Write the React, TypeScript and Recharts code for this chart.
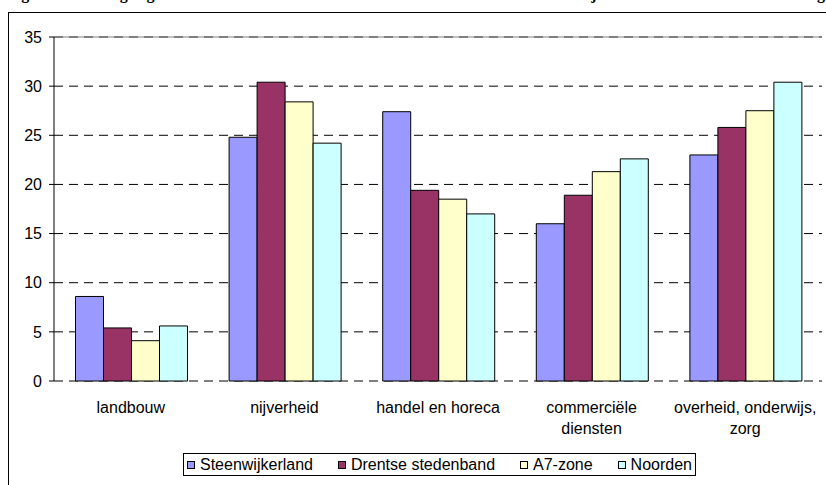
import React from 'react';
import { BarChart, Bar, XAxis, YAxis, CartesianGrid, ReferenceLine } from 'recharts';

const categories = [
  'landbouw',
  'nijverheid',
  'handel en horeca',
  'commerciële\ndiensten',
  'overheid, onderwijs,\nzorg',
];
const steenwijkerland = [8.6, 24.8, 27.4, 16.0, 23.0];
const drentseStedenband = [5.4, 30.4, 19.4, 18.9, 25.8];
const a7Zone = [4.1, 28.4, 18.5, 21.3, 27.5];
const noorden = [5.6, 24.2, 17.0, 22.6, 30.4];

const seriesNames = ['Steenwijkerland', 'Drentse stedenband', 'A7-zone', 'Noorden'];
const seriesColors = ['#9999FF', '#993366', '#FFFFCC', '#CCFFFF'];
const seriesValues = [steenwijkerland, drentseStedenband, a7Zone, noorden];

const yTicks = [0, 5, 10, 15, 20, 25, 30, 35];
const boundaryTicks = [0, 1, 2, 3, 4, 5];
const titleText =
  'Figuur 2.4 Werkgelegenheid naar sectoren in 2005: de Drentse stedenband en Steenwijkerland en het hele Noorden als gemiddelde';

const data = categories.map((name, i) => {
  const row: any = { name };
  seriesValues.forEach((vals, s) => {
    row['s' + s] = vals[i];
  });
  return row;
});

const FONT = "'Liberation Sans', Arial, sans-serif";

const CatTick = (props: any) => {
  const { x, y, payload } = props;
  const lines = String(payload.value).split('\n');
  return (
    <text x={x} y={y} textAnchor="middle" fill="#000" fontSize={16} fontFamily={FONT}>
      {lines.map((l, i) => (
        <tspan key={i} x={x} dy={i === 0 ? 32 : 21}>
          {l}
        </tspan>
      ))}
    </text>
  );
};

export default function App() {
  return (
    <div
      style={{
        position: 'absolute',
        left: 0,
        top: 0,
        width: 826,
        height: 485,
        overflow: 'hidden',
        background: '#fff',
      }}
    >
      <svg style={{ position: 'absolute', left: 0, top: 0 }} width={826} height={20}>
        <text
          x={7}
          y={-1}
          fontFamily="'Liberation Serif', 'Times New Roman', serif"
          fontWeight="bold"
          fontSize={16}
          fill="#000"
        >
          {titleText}
        </text>
      </svg>
      <div
        style={{
          position: 'absolute',
          left: 8,
          top: 12,
          width: 900,
          height: 600,
          border: '1px solid #000',
        }}
      />
      <div style={{ position: 'absolute', left: 0, top: 0 }}>
        <BarChart
          width={826}
          height={485}
          data={data}
          margin={{ top: 37, right: 4, left: 0, bottom: 54 }}
          barCategoryGap="14%"
          barGap={0}
        >
          <CartesianGrid vertical={false} stroke="#000" strokeDasharray="9 6" />
          <XAxis
            xAxisId="b"
            type="number"
            domain={[0, 5]}
            ticks={boundaryTicks}
            tick={false}
            tickSize={6}
            height={0}
            stroke="#000"
            allowDataOverflow
          />
          <XAxis
            xAxisId="c"
            dataKey="name"
            tickLine={false}
            axisLine={false}
            tickSize={0}
            tickMargin={0}
            height={50}
            interval={0}
            tick={<CatTick />}
          />
          <YAxis
            domain={[0, 35]}
            ticks={yTicks}
            interval={0}
            width={54}
            tickSize={5}
            tickMargin={7}
            stroke="#000"
            tick={{ fill: '#000', fontSize: 16, fontFamily: FONT }}
          />
          {seriesNames.map((n, s) => (
            <Bar
              key={n}
              name={n}
              dataKey={'s' + s}
              xAxisId="c"
              fill={seriesColors[s]}
              stroke="#000"
              strokeWidth={1}
              isAnimationActive={false}
            />
          ))}
          <ReferenceLine y={35} xAxisId="c" stroke="#808080" strokeWidth={1} />
          <ReferenceLine x={5} xAxisId="b" stroke="#808080" strokeWidth={1} />
        </BarChart>
      </div>
      <div
        style={{
          position: 'absolute',
          left: 183,
          top: 453,
          width: 513,
          height: 23,
          boxSizing: 'border-box',
          border: '1px solid #000',
          display: 'flex',
          alignItems: 'center',
          justifyContent: 'space-between',
          padding: '0 3px 0 3px',
          fontFamily: FONT,
          fontSize: 16,
          color: '#000',
          background: '#fff',
        }}
      >
        {seriesNames.map((n, s) => (
          <div key={n} style={{ display: 'flex', alignItems: 'center', whiteSpace: 'nowrap' }}>
            <span
              style={{
                display: 'inline-block',
                width: 8,
                height: 8,
                boxSizing: 'border-box',
                border: '1px solid #000',
                background: seriesColors[s],
                marginRight: 5,
              }}
            />
            <span>{n}</span>
          </div>
        ))}
      </div>
    </div>
  );
}
